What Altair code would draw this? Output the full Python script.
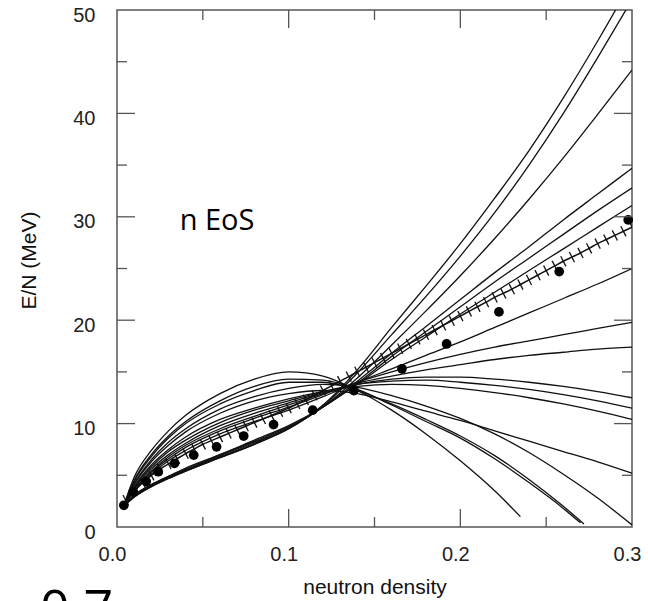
import altair as alt
import pandas as pd

# ---------------- data ----------------
X_GRID = [0.005, 0.01, 0.02, 0.03, 0.04, 0.06, 0.08, 0.10, 0.12, 0.14,
          0.16, 0.18, 0.20, 0.22, 0.24, 0.26, 0.28, 0.30]

A_Y = [2.2, 2.9, 3.9, 4.7, 5.4, 6.7, 8.0, 9.5, 11.8, 15.2, 19.3, 23.3, 27.4, 31.8, 36.4, 41.5, 47.0, 52.8]
B_Y = [2.2, 2.9, 3.9, 4.7, 5.4, 6.7, 8.0, 9.5, 11.7, 14.9, 18.6, 22.3, 26.2, 30.4, 35.0, 40.0, 45.4, 51.0]
C_Y = [2.2, 2.9, 4.0, 4.8, 5.5, 6.8, 8.1, 9.6, 11.6, 14.4, 17.6, 20.9, 24.3, 27.9, 31.7, 35.7, 39.9, 44.2]
D_Y = [2.3, 3.0, 4.0, 4.8, 5.5, 6.9, 8.2, 9.6, 11.6, 14.1, 16.8, 19.4, 22.0, 24.6, 27.1, 29.7, 32.2, 34.7]
E_Y = [2.3, 3.0, 4.1, 4.9, 5.6, 7.0, 8.3, 9.7, 11.6, 13.9, 16.5, 18.9, 21.3, 23.7, 26.0, 28.3, 30.6, 32.8]
F_Y = [2.3, 3.1, 4.1, 4.9, 5.7, 7.0, 8.4, 9.8, 11.6, 13.8, 16.2, 18.4, 20.6, 22.7, 24.8, 26.9, 29.0, 31.1]
G_Y = [2.3, 3.4, 5.1, 6.4, 7.4, 9.0, 10.2, 11.3, 12.6, 14.0, 15.3, 16.6, 17.9, 19.3, 20.7, 22.1, 23.5, 25.0]
H_Y = [2.4, 3.5, 5.3, 6.6, 7.7, 9.3, 10.5, 11.6, 12.8, 14.0, 15.0, 15.9, 16.7, 17.4, 18.0, 18.6, 19.2, 19.8]
I_Y = [2.4, 3.6, 5.4, 6.8, 7.9, 9.5, 10.7, 11.8, 12.9, 13.9, 14.6, 15.2, 15.7, 16.2, 16.6, 16.9, 17.2, 17.4]
J_Y = [2.4, 3.7, 5.6, 7.0, 8.1, 9.8, 11.0, 12.0, 13.0, 13.8, 14.3, 14.5, 14.5, 14.3, 14.0, 13.6, 13.1, 12.5]
K_Y = [2.4, 3.8, 5.8, 7.3, 8.4, 10.1, 11.3, 12.2, 13.1, 13.8, 14.1, 14.2, 14.0, 13.7, 13.3, 12.8, 12.2, 11.5]
L_Y = [2.4, 3.9, 6.0, 7.5, 8.7, 10.4, 11.5, 12.4, 13.1, 13.6, 13.8, 13.7, 13.4, 13.0, 12.5, 11.9, 11.2, 10.4]
M_Y = [2.5, 4.1, 6.3, 7.9, 9.2, 11.0, 12.2, 12.9, 13.2, 12.9, 12.1, 11.2, 10.3, 9.3, 8.3, 7.3, 6.3, 5.2]
N_Y = [2.5, 4.2, 6.5, 8.2, 9.5, 11.4, 12.6, 13.4, 13.8, 13.5, 12.7, 11.7, 10.5, 9.0, 7.2, 5.1, 2.8, 0.2]

# curves that stop before the right edge
O_X = [0.005, 0.01, 0.02, 0.03, 0.04, 0.06, 0.08, 0.10, 0.12, 0.14, 0.16, 0.18, 0.20, 0.22, 0.24, 0.26, 0.27]
O_Y = [2.5, 4.5, 7.0, 8.8, 10.2, 12.2, 13.6, 14.3, 14.2, 13.3, 11.8, 10.2, 8.6, 6.6, 4.3, 1.8, 0.4]
P_X = [0.005, 0.01, 0.02, 0.03, 0.04, 0.06, 0.08, 0.10, 0.12, 0.14, 0.16, 0.18, 0.20, 0.22, 0.24, 0.26, 0.272]
P_Y = [2.5, 4.4, 6.8, 8.6, 10.0, 11.9, 13.2, 14.0, 14.0, 13.2, 11.9, 10.4, 8.8, 6.9, 4.6, 2.0, 0.3]
Q_X = [0.005, 0.01, 0.02, 0.03, 0.04, 0.06, 0.08, 0.10, 0.12, 0.14, 0.16, 0.18, 0.20, 0.22, 0.235]
Q_Y = [2.6, 4.8, 7.4, 9.3, 10.8, 12.9, 14.3, 15.0, 14.6, 13.2, 11.3, 9.0, 6.4, 3.5, 1.0]

# hatched reference line
TICKED_X = [0.005, 0.010, 0.015, 0.020, 0.025, 0.030, 0.035, 0.040, 0.045, 0.050,
            0.055, 0.060, 0.065, 0.070, 0.075, 0.080, 0.085, 0.090, 0.095, 0.100,
            0.105, 0.110, 0.115, 0.120, 0.125, 0.130, 0.135, 0.140, 0.145, 0.150,
            0.155, 0.160, 0.165, 0.170, 0.175, 0.180, 0.185, 0.190, 0.195, 0.200,
            0.205, 0.210, 0.215, 0.220, 0.225, 0.230, 0.235, 0.240, 0.245, 0.250,
            0.255, 0.260, 0.265, 0.270, 0.275, 0.280, 0.285, 0.290, 0.295, 0.300]
TICKED_Y = [2.6, 3.5, 4.3, 5.0, 5.6, 6.1, 6.6, 7.1, 7.55, 8.0,
            8.35, 8.7, 9.05, 9.4, 9.75, 10.1, 10.45, 10.8, 11.15, 11.5,
            11.9, 12.3, 12.75, 13.2, 13.65, 14.1, 14.55, 15.0, 15.45, 15.9,
            16.35, 16.8, 17.25, 17.7, 18.15, 18.6, 19.05, 19.5, 19.95, 20.4,
            20.85, 21.3, 21.75, 22.2, 22.6, 23.0, 23.45, 23.9, 24.35, 24.8,
            25.25, 25.7, 26.1, 26.5, 26.95, 27.4, 27.8, 28.2, 28.6, 29.0]

# filled circles
DOT_X = [0.004, 0.0095, 0.017, 0.024, 0.0335, 0.0447, 0.058, 0.0738, 0.0912,
         0.114, 0.138, 0.166, 0.192, 0.2225, 0.2576, 0.2978]
DOT_Y = [2.1, 3.4, 4.4, 5.35, 6.15, 6.95, 7.75, 8.8, 9.9,
         11.3, 13.2, 15.3, 17.7, 20.8, 24.7, 29.7]

X_LABELS = [0.0, 0.1, 0.2, 0.3]
Y_LABELS = [0, 10, 20, 30, 40, 50]
X_MAJOR = [0.1, 0.2]
X_MINOR = [0.05, 0.15, 0.25]
Y_MAJOR = [10, 20, 30, 40]
Y_MINOR = [5, 15, 25, 35, 45]

# ---------------- build tables ----------------
CURVES = [("A", X_GRID, A_Y), ("B", X_GRID, B_Y), ("C", X_GRID, C_Y),
          ("D", X_GRID, D_Y), ("E", X_GRID, E_Y), ("F", X_GRID, F_Y),
          ("G", X_GRID, G_Y), ("H", X_GRID, H_Y), ("I", X_GRID, I_Y),
          ("J", X_GRID, J_Y), ("K", X_GRID, K_Y), ("L", X_GRID, L_Y),
          ("M", X_GRID, M_Y), ("N", X_GRID, N_Y), ("O", O_X, O_Y),
          ("P", P_X, P_Y), ("Q", Q_X, Q_Y)]
rows = []
for name, xs, ys in CURVES:
    for i, (xv, yv) in enumerate(zip(xs, ys)):
        rows.append({"curve": name, "x": xv, "y": yv, "i": i})
curves_df = pd.DataFrame(rows)
ticked_df = pd.DataFrame({"x": TICKED_X, "y": TICKED_Y})
dots_df = pd.DataFrame({"x": DOT_X, "y": DOT_Y})

W, H = 515, 517
FONT = "Liberation Sans"
INK = "#111111"
FRAME = "#555555"

xscale = alt.Scale(domain=[0, 0.3], nice=False, zero=False)
yscale = alt.Scale(domain=[0, 50], nice=False, zero=False)

xaxis = alt.Axis(values=X_LABELS, format=".1f", title="neutron density",
                 domain=False, ticks=False, tickSize=0, grid=False,
                 labelFont=FONT, labelFontSize=20, labelColor="#222222",
                 labelPadding=17, labelOffset=-5, labelFlush=False, labelOverlap=False,
                 titleFont=FONT, titleFontSize=21, titleFontWeight="normal",
                 titleColor=INK, titleY=66, titleBaseline="alphabetic")
yaxis = alt.Axis(values=Y_LABELS, title="E/N (MeV)",
                 domain=False, ticks=False, tickSize=0, grid=False,
                 labelFont=FONT, labelFontSize=20, labelColor="#222222",
                 labelPadding=22, labelOffset=5, labelFlush=False, labelOverlap=False,
                 titleFont=FONT, titleFontSize=21, titleFontWeight="normal",
                 titleColor=INK, titleAngle=270, titleX=-88, titleY=250,
                 titleAlign="center", titleBaseline="middle")


def X(field):
    return alt.X(field, scale=xscale, axis=xaxis)


def Y(field):
    return alt.Y(field, scale=yscale, axis=yaxis)


curves = alt.Chart(curves_df).mark_line(
    interpolate="monotone", clip=True, color=INK, strokeWidth=1.3
).encode(x=X("x:Q"), y=Y("y:Q"), detail="curve:N", order="i:Q")

ticked_line = alt.Chart(ticked_df).mark_line(
    clip=True, color=INK, strokeWidth=1.5, interpolate="monotone"
).encode(x=X("x:Q"), y=Y("y:Q"))

ticked_marks = alt.Chart(ticked_df).mark_point(
    shape="M0,-1L0,1", size=130, angle=333, filled=False,
    stroke=INK, strokeWidth=1.3, opacity=1, clip=True
).encode(x=X("x:Q"), y=Y("y:Q"))

dots = alt.Chart(dots_df).mark_circle(size=95, color="#000000", opacity=1).encode(
    x=X("x:Q"), y=Y("y:Q")
)


# inward tick marks on all four sides
def xticks(vals, length, top):
    d = pd.DataFrame({"v": vals})
    y0 = 0 if top else H
    y1 = length if top else H - length
    return alt.Chart(d).mark_rule(color=FRAME, strokeWidth=1.3).encode(
        x=X("v:Q"), y=alt.value(y0), y2=alt.value(y1))


def yticks(vals, length, right):
    d = pd.DataFrame({"v": vals})
    x0 = W if right else 0
    x1 = W - length if right else length
    return alt.Chart(d).mark_rule(color=FRAME, strokeWidth=1.3).encode(
        y=Y("v:Q"), x=alt.value(x0), x2=alt.value(x1))


tick_layers = [
    xticks(X_MAJOR, 18, False), xticks(X_MINOR, 10, False),
    xticks(X_MAJOR, 18, True), xticks(X_MINOR, 10, True),
    yticks(Y_MAJOR, 18, False), yticks(Y_MINOR, 10, False),
    yticks(Y_MAJOR, 18, True), yticks(Y_MINOR, 10, True),
]

label_df = pd.DataFrame({"label": ["n EoS"], "x": [0.0365], "y": [28.7]})
label = alt.Chart(label_df).mark_text(
    font="Open Sans", fontSize=29, color="#000000", align="left", baseline="alphabetic"
).encode(x=X("x:Q"), y=Y("y:Q"), text="label:N")

bottom_df = pd.DataFrame({"label": ["0.7"]})
bottom_text = alt.Chart(bottom_df).mark_text(
    font="Open Sans", fontSize=52, color="#000000", align="left", baseline="alphabetic"
).encode(x=alt.value(-77), y=alt.value(617), text="label:N")

chart = alt.layer(
    curves, ticked_line, ticked_marks, dots, *tick_layers, label, bottom_text
).properties(
    width=W, height=H,
    autosize=alt.AutoSizeParams(type="none"),
    padding={"left": 117, "top": 10, "right": 16, "bottom": 74},
    background="white",
).configure_view(stroke=FRAME, strokeWidth=1.5)

chart.save("out.html", embed_options={"renderer": "svg", "actions": False})
